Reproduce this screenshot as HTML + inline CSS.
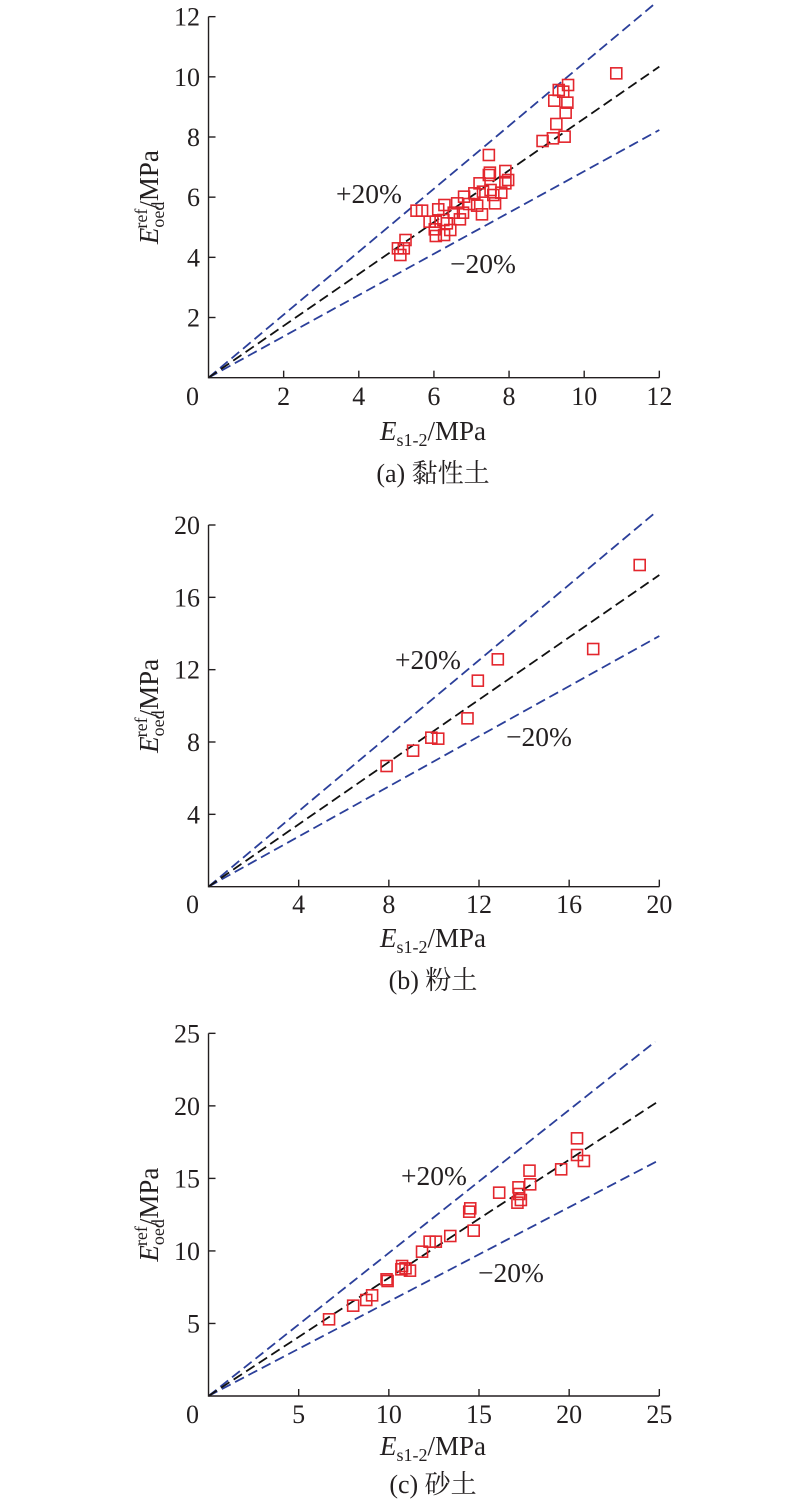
<!DOCTYPE html>
<html><head><meta charset="utf-8"><style>
html,body{margin:0;padding:0;background:#fff;}
svg{display:block;}
text{font-family:"Liberation Serif","Noto Serif CJK SC",serif;fill:#231f20;}
</style></head><body>
<svg id="s" width="800" height="1505" xmlns="http://www.w3.org/2000/svg"></svg>
<script>
const S=document.getElementById('s');const NS='http://www.w3.org/2000/svg';
function el(t,a,txt){const e=document.createElementNS(NS,t);for(const k in a)e.setAttribute(k,a[k]);if(txt!==undefined)e.innerHTML=txt;S.appendChild(e);return e;}
const kx=540/1568;
const panels=[
 {top:0,x0:228,y0:1133,xmax:1537,ymaxY:50,ticksX:[0,2,4,6,8,10,12],ticksY:[2,4,6,8,10,12],ymax:12,xmaxv:12,
  blk:[1537,200],up:[1525,10],lo:[1537,390],
  pts:[[1412,220],[1272,255],[1258,275],[1245,270],[1232,302],[1270,308],[1265,338],[1238,372],[1262,410],[1228,415],[1198,423],[1042,465],[1045,518],[1042,525],[1090,513],[1098,540],[1090,550],[1015,550],[1047,570],[1025,575],[1078,578],[1055,585],[1000,580],[970,590],[1060,610],[1022,643],[1008,617],[985,612],[967,638],[950,610],[913,615],[895,628],[940,638],[958,658],[910,660],[888,665],[870,665],[920,670],[885,688],[930,690],[912,705],[888,708],[832,632],[848,632],[800,720],[778,745],[795,745],[785,765]],
  p20:[336,203],m20:[450,273],xlab:440,cap:482,tickBase:405,cap_t:'(a) 黏性土'},
 {top:510,x0:228,y0:1130,xmax:1537,ymaxY:45,ticksX:[0,4,8,12,16,20],ticksY:[4,8,12,16,20],ymax:20,xmaxv:20,
  blk:[1537,195],up:[1525,8],lo:[1537,378],
  pts:[[1480,165],[1345,417],[1068,448],[1010,512],[980,625],[895,686],[875,683],[822,722],[745,768]],
  p20:[395,669],m20:[506,746],xlab:947,cap:989,tickBase:913,cap_t:'(b) 粉土'},
 {top:1020,x0:228,y0:1128,xmax:1537,ymaxY:40,ticksX:[0,5,10,15,20,25],ticksY:[5,10,15,20,25],ymax:25,xmaxv:25,
  blk:[1537,242],up:[1525,65],lo:[1537,420],
  pts:[[578,898],[648,857],[686,840],[703,826],[745,778],[748,783],[790,738],[800,745],[813,752],[788,748],[848,695],[870,665],[888,665],[930,648],[985,575],[988,565],[998,632],[1072,518],[1128,502],[1130,522],[1135,540],[1125,548],[1160,452],[1162,493],[1252,448],[1298,355],[1298,405],[1318,423]],
  p20:[401,1185],m20:[478,1282],xlab:1455,cap:1493,tickBase:1423,cap_t:'(c) 砂土'}
];
for(const p of panels){
 const X=v=>130+v*kx, Y=v=>p.top+v/3;
 const ox=X(p.x0), oy=Y(p.y0), ex=X(p.xmax), ty=Y(p.ymaxY);
 el('line',{x1:ox,y1:oy,x2:X(p.up[0]),y2:Y(p.up[1]),stroke:'#2b3f9a','stroke-width':1.8,'stroke-dasharray':'10 5'});
 el('line',{x1:ox,y1:oy,x2:X(p.lo[0]),y2:Y(p.lo[1]),stroke:'#2b3f9a','stroke-width':1.8,'stroke-dasharray':'10 5'});
 el('line',{x1:ox,y1:oy,x2:X(p.blk[0]),y2:Y(p.blk[1]),stroke:'#111','stroke-width':1.8,'stroke-dasharray':'10 5'});
 el('path',{d:`M${ox},${ty} V${oy} H${ex}`,fill:'none',stroke:'#231f20','stroke-width':1.4});
 const dx=(ex-ox)/p.xmaxv, dy=(oy-ty)/p.ymax;
 for(const t of p.ticksX){const x=ox+t*dx; if(t>0) el('line',{x1:x,y1:oy,x2:x,y2:oy-7,stroke:'#231f20','stroke-width':1.4});
   el('text',{x:t===0?ox-16:x,y:p.tickBase,'font-size':26,'text-anchor':'middle'},String(t));}
 for(const t of p.ticksY){const y=oy-t*dy; el('line',{x1:ox,y1:y,x2:ox+7,y2:y,stroke:'#231f20','stroke-width':1.4});
   el('text',{x:200,y:y+9,'font-size':26,'text-anchor':'end'},String(t));}
 for(const q of p.pts){const x=X(q[0]),y=Y(q[1]);
   el('rect',{x:x-5.5,y:y-5.5,width:11,height:11,fill:'none',stroke:'#e3262d','stroke-width':1.6});}
 el('text',{x:p.p20[0],y:p.p20[1],'font-size':27.5},'+20%');
 el('text',{x:p.m20[0],y:p.m20[1],'font-size':27.5},'−20%');
 const cy=(ty+oy)/2;
 el('text',{transform:`translate(158,${cy}) rotate(-90)`,'font-size':27,'text-anchor':'middle'},
  '<tspan font-style="italic">E</tspan><tspan font-size="18" dy="6">oed</tspan><tspan font-size="18" dx="-27" dy="-17">ref</tspan><tspan dy="11">/MPa</tspan>');
 el('text',{x:433,y:p.xlab,'font-size':27,'text-anchor':'middle'},
  '<tspan font-style="italic">E</tspan><tspan font-size="18" dy="6">s1-2</tspan><tspan dy="-6">/MPa</tspan>');
 el('text',{x:433,y:p.cap,'font-size':26,'text-anchor':'middle'},p.cap_t);
}
</script>
</body></html>
